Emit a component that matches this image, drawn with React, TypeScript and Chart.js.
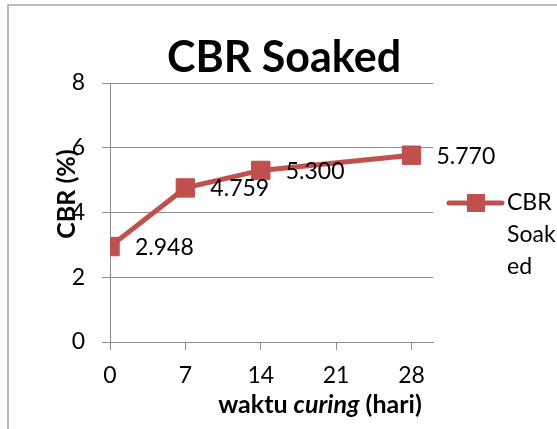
import React, { useEffect, useRef } from 'react';
import { Chart, registerables } from 'chart.js';

Chart.register(...registerables);

// ---- data ----
const curingDays = [0, 7, 14, 28];
const cbrSoaked = [2.948, 4.759, 5.3, 5.77];
const xTickValues = [0, 7, 14, 21, 28];
const yTickValues = [0, 2, 4, 6, 8];
const chartTitle = 'CBR Soaked';
const seriesName = 'CBR Soaked';
const legendLines = ['CBR', 'Soak', 'ed'];
const yAxisTitle = 'CBR (%)';
const xAxisTitleParts = [
  { text: 'waktu ', italic: false },
  { text: 'curing', italic: true },
  { text: ' (hari)', italic: false },
];

const FONT = 'Lato, "Open Sans", sans-serif';
const RED = '#C0504D';
const GRID = '#8c8c8c';

const decorPlugin = {
  id: 'decor',
  beforeDraw(chart: any) {
    const ctx = chart.ctx;
    ctx.save();
    ctx.fillStyle = '#ffffff';
    ctx.fillRect(0, 0, chart.width, chart.height);
    ctx.strokeStyle = '#a6a6a6';
    ctx.lineWidth = 1.5;
    ctx.strokeRect(8, 5, chart.width + 20, chart.height + 20);
    ctx.restore();
  },
  afterDatasetsDraw(chart: any) {
    const ctx = chart.ctx;
    ctx.save();
    // data labels
    const meta = chart.getDatasetMeta(0);
    ctx.fillStyle = '#000';
    ctx.font = `23px ${FONT}`;
    ctx.textAlign = 'left';
    ctx.textBaseline = 'middle';
    meta.data.forEach((pt: any, i: number) => {
      ctx.fillText(cbrSoaked[i].toFixed(3), pt.x + 25, pt.y + 1);
    });

    // title
    ctx.font = `bold 43px ${FONT}`;
    ctx.textAlign = 'center';
    ctx.textBaseline = 'alphabetic';
    ctx.fillText(chartTitle, 284, 72);

    // y axis title
    ctx.save();
    ctx.translate(75, 194);
    ctx.rotate(-Math.PI / 2);
    ctx.font = `bold 25px ${FONT}`;
    ctx.textAlign = 'center';
    ctx.textBaseline = 'alphabetic';
    ctx.fillText(yAxisTitle, 0, 0);
    ctx.restore();

    // x axis title with italic part
    let total = 0;
    const widths = xAxisTitleParts.map((p) => {
      ctx.font = `${p.italic ? 'italic ' : ''}bold 25px ${FONT}`;
      const w = ctx.measureText(p.text).width;
      total += w;
      return w;
    });
    let x = 320 - total / 2;
    ctx.textAlign = 'left';
    xAxisTitleParts.forEach((p, i) => {
      ctx.font = `${p.italic ? 'italic ' : ''}bold 25px ${FONT}`;
      ctx.fillText(p.text, x, 413);
      x += widths[i];
    });

    // legend
    ctx.strokeStyle = RED;
    ctx.lineWidth = 5;
    ctx.lineCap = 'round';
    ctx.beginPath();
    ctx.moveTo(449, 203);
    ctx.lineTo(502, 203);
    ctx.stroke();
    ctx.fillStyle = RED;
    ctx.fillRect(467, 194, 18, 18);
    ctx.fillStyle = '#000';
    ctx.font = `23px ${FONT}`;
    ctx.textBaseline = 'middle';
    legendLines.forEach((t, i) => {
      ctx.fillText(t, 507, 203 + i * 32);
    });
    ctx.restore();
  },
};

export default function App() {
  const ref = useRef<HTMLCanvasElement>(null);
  useEffect(() => {
    document.body.style.margin = '0';
    const chart = new Chart(ref.current!, {
      type: 'line',
      data: {
        datasets: [
          {
            label: seriesName,
            data: curingDays.map((d, i) => ({ x: d, y: cbrSoaked[i] })),
            borderColor: RED,
            backgroundColor: RED,
            borderWidth: 5,
            pointStyle: 'rect',
            pointRadius: 13,
            pointBorderWidth: 1,
            pointBackgroundColor: RED,
            pointBorderColor: RED,
            tension: 0,
          },
        ],
      },
      options: {
        animation: false,
        responsive: false,
        devicePixelRatio: 1,
        layout: { padding: { left: 0, right: 124, top: 83, bottom: 0 } },
        plugins: { legend: { display: false }, title: { display: false }, tooltip: { enabled: false } },
        scales: {
          x: {
            type: 'linear',
            min: 0,
            max: 30,
            afterBuildTicks: (s: any) => {
              s.ticks = xTickValues.map((v) => ({ value: v }));
            },
            afterFit: (s: any) => {
              s.height = 87;
            },
            grid: { drawOnChartArea: false, tickLength: 8, color: GRID, lineWidth: 1 },
            border: { color: GRID, width: 1 },
            ticks: { color: '#000', font: { family: FONT, size: 23 }, padding: 12 },
          },
          y: {
            min: 0,
            max: 8,
            afterBuildTicks: (s: any) => {
              s.ticks = yTickValues.map((v) => ({ value: v }));
            },
            afterFit: (s: any) => {
              s.width = 110;
            },
            grid: { color: GRID, tickLength: 8, lineWidth: 1 },
            border: { color: GRID, width: 1 },
            ticks: { color: '#000', font: { family: FONT, size: 23 }, padding: 17 },
          },
        },
      },
      plugins: [decorPlugin],
    } as any);
    return () => chart.destroy();
  }, []);
  return <canvas ref={ref} width={557} height={429} style={{ display: 'block' }} />;
}
